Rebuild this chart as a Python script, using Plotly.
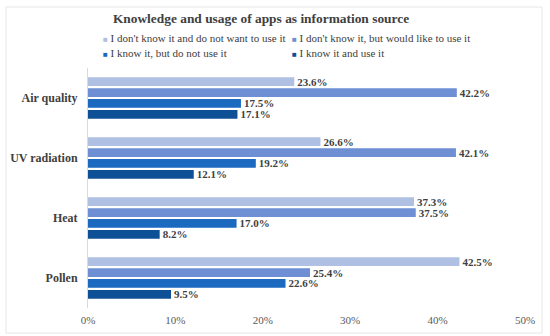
import plotly.graph_objects as go

categories = ["Air quality", "UV radiation", "Heat", "Pollen"]
series_names = [
    "I don't know it and do not want to use it",
    "I don't know it, but would like to use it",
    "I know it, but do not use it",
    "I know it and use it",
]
values_dont_know_not_want = [23.6, 26.6, 37.3, 42.5]
values_dont_know_would_like = [42.2, 42.1, 37.5, 25.4]
values_know_not_use = [17.5, 19.2, 17.0, 22.6]
values_know_use = [17.1, 12.1, 8.2, 9.5]
series_values = [values_dont_know_not_want, values_dont_know_would_like,
                 values_know_not_use, values_know_use]
colors = ["#AFC0E3", "#6E8FD4", "#1C69C0", "#0E5096"]
tick_vals = [0, 10, 20, 30, 40, 50]
tick_text = ["0%", "10%", "20%", "30%", "40%", "50%"]

FONT = "Liberation Serif"
L, R, T, B = 88, 25, 68, 28
W, H = 550, 336
PW, PH = W - L - R, H - T - B

fig = go.Figure()
for name, vals, col in zip(series_names, series_values, colors):
    fig.add_trace(go.Bar(
        y=categories, x=vals, orientation="h", name=name,
        marker=dict(color=col, line=dict(width=0)),
        text=[f"{v:.1f}%" for v in vals], textposition="outside",
        constraintext="none",
        textfont=dict(family=FONT, size=11, color="#404040", weight="bold"),
        cliponaxis=False, showlegend=False,
    ))

# legend drawn as text entries (2 columns x 2 rows)
legend_pos = [(101, 38), (290, 38), (101, 53), (290, 53)]
annotations = []
for name, col, (px, py) in zip(series_names, colors, legend_pos):
    annotations.append(dict(
        xref="paper", yref="paper", x=(px - L) / PW, y=(H - B - py) / PH,
        xanchor="left", yanchor="middle", showarrow=False,
        text=f"<span style='color:{col};font-size:8px'>■</span> {name}",
        font=dict(family=FONT, size=11, color="#404040"),
    ))

fig.update_layout(
    width=W, height=H,
    margin=dict(l=L, r=R, t=T, b=B, autoexpand=False),
    paper_bgcolor="white", plot_bgcolor="white",
    barmode="group", bargap=0.27, bargroupgap=0.2,
    font=dict(family=FONT, color="#404040"),
    showlegend=False,
    title=dict(text="<b>Knowledge and usage of apps as information source</b>",
               x=261/W, xanchor="center", y=1-18/H, yanchor="middle",
               font=dict(family=FONT, size=13.4, color="#404040")),
    annotations=annotations,
    xaxis=dict(range=[0, 50], tickvals=tick_vals, ticktext=tick_text, showgrid=False,
               zeroline=False, showline=False, ticks="", ticklabelstandoff=4,
               tickfont=dict(family=FONT, size=11, color="#595959")),
    yaxis=dict(autorange="reversed", showline=True, linecolor="#D9D9D9", linewidth=1,
               ticks="", tickfont=dict(family=FONT, size=12, color="#404040", weight="bold"),
               ticklabelstandoff=7),
    shapes=[dict(type="rect", xref="paper", yref="paper",
                 x0=-(L - 6) / PW, x1=(542 - L) / PW, y0=-(333 - (H - B)) / PH, y1=1 + (T - 7) / PH,
                 line=dict(color="#E6E6E6", width=1), layer="below")],
)

fig.write_html("out.html", config={"displayModeBar": False},
               post_script="document.body.style.margin='0';document.body.style.padding='0';")
